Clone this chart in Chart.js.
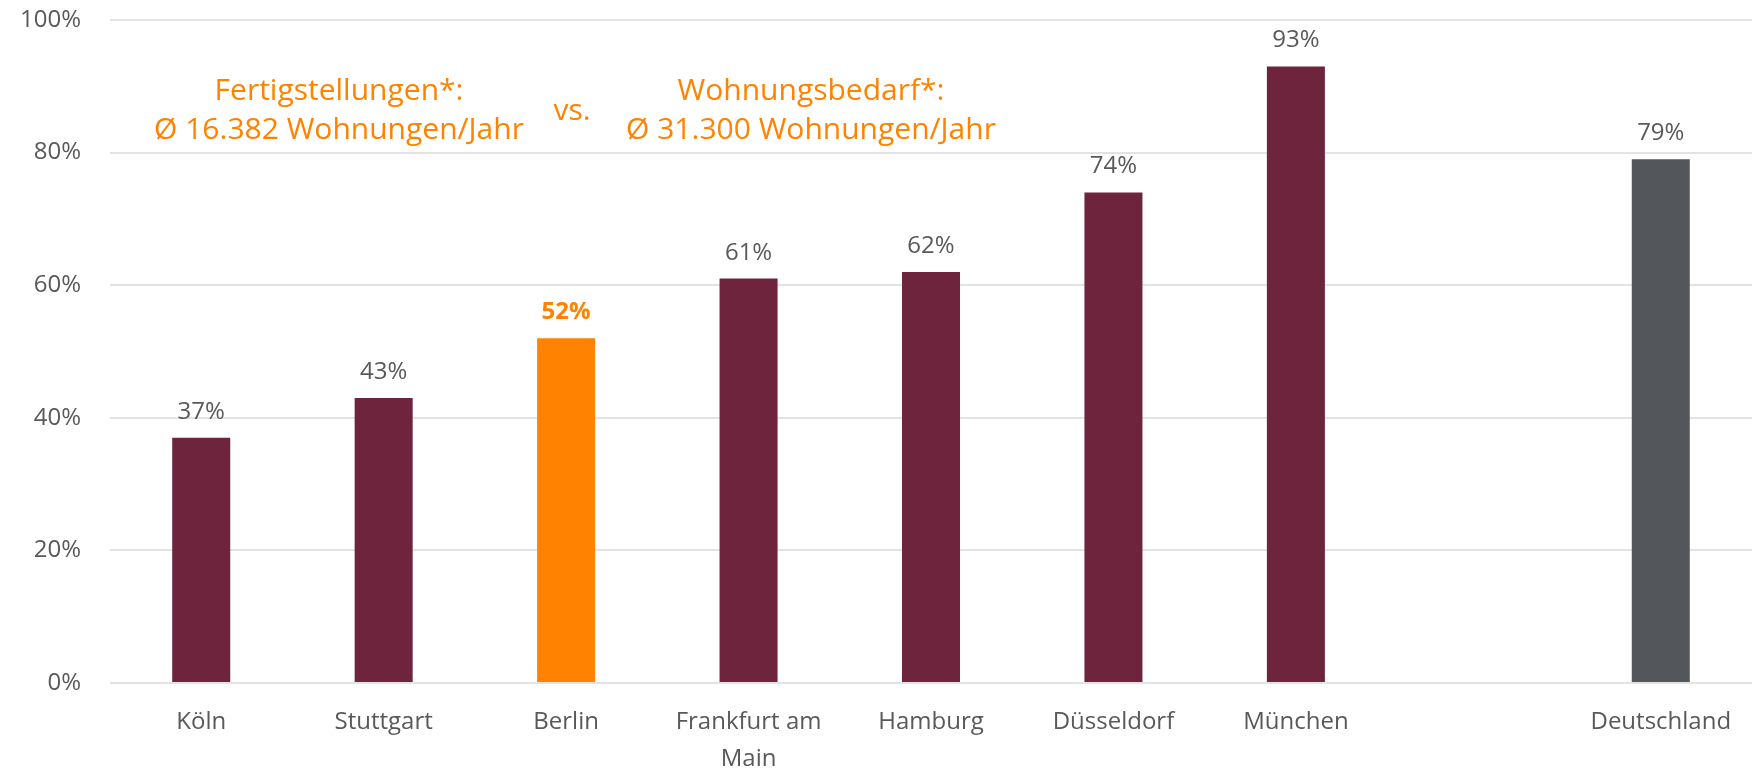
<!DOCTYPE html>
<html>
<head>
<meta charset="utf-8">
<script src="https://cdn.jsdelivr.net/npm/chart.js@4/dist/chart.umd.min.js"></script>
<style>
  html, body { margin: 0; padding: 0; background: #ffffff; }
  #wrap { width: 1761px; height: 770px; }
</style>
</head>
<body>
<div id="wrap"><canvas id="c" width="1761" height="770"></canvas></div>
<script>
// ---- data ----
const categories = ['Köln', 'Stuttgart', 'Berlin', ['Frankfurt am', 'Main'], 'Hamburg', 'Düsseldorf', 'München', '', 'Deutschland'];
const values = [37, 43, 52, 61, 62, 74, 93, null, 79];
const yTicks = [0, 20, 40, 60, 80, 100];
const annotationLeft = ['Fertigstellungen*:', 'Ø 16.382 Wohnungen/Jahr'];
const annotationMid = 'vs.';
const annotationRight = ['Wohnungsbedarf*:', 'Ø 31.300 Wohnungen/Jahr'];

// ---- styles ----
const MAROON = '#6E243C';
const ORANGE = '#FF8200';
const GREY = '#53565A';
const TEXT = '#595959';
const barColors = categories.map((c, i) => {
  if (c === 'Berlin') return ORANGE;
  if (c === 'Deutschland') return GREY;
  return MAROON;
});

Chart.defaults.font.family = '"Open Sans", "DejaVu Sans", sans-serif';
Chart.defaults.color = TEXT;

const valueLabels = {
  id: 'valueLabels',
  afterDatasetsDraw(chart) {
    const ctx = chart.ctx;
    const meta = chart.getDatasetMeta(0);
    ctx.save();
    ctx.textAlign = 'center';
    ctx.textBaseline = 'alphabetic';
    meta.data.forEach((bar, i) => {
      const v = values[i];
      if (v === null || v === undefined) return;
      const isBerlin = categories[i] === 'Berlin';
      ctx.font = (isBerlin ? 'bold ' : '') + '24px "Open Sans", sans-serif';
      ctx.fillStyle = isBerlin ? ORANGE : TEXT;
      ctx.fillText(v + '%', bar.x, bar.y - 19);
    });
    ctx.restore();
  }
};

const annotations = {
  id: 'annotations',
  afterDraw(chart) {
    const ctx = chart.ctx;
    ctx.save();
    ctx.fillStyle = ORANGE;
    ctx.textAlign = 'center';
    ctx.textBaseline = 'alphabetic';
    ctx.font = '30px "Open Sans", sans-serif';
    ctx.fillText(annotationLeft[0], 339, 100);
    ctx.fillText(annotationLeft[1], 339, 139);
    ctx.fillText(annotationRight[0], 811, 100);
    ctx.fillText(annotationRight[1], 811, 139);
    ctx.fillText(annotationMid, 572, 120);
    ctx.restore();
  }
};

new Chart(document.getElementById('c'), {
  type: 'bar',
  data: {
    labels: categories,
    datasets: [{
      data: values,
      backgroundColor: barColors,
      borderWidth: 0,
      barPercentage: 0.318,
      categoryPercentage: 1.0
    }]
  },
  options: {
    responsive: false,
    animation: false,
    devicePixelRatio: 1,
    layout: { padding: { top: 20, right: 9, left: 0, bottom: 0 } },
    plugins: {
      legend: { display: false },
      tooltip: { enabled: false }
    },
    scales: {
      x: {
        grid: { display: false, drawTicks: false },
        border: { display: false },
        ticks: {
          color: TEXT,
          font: { size: 24, lineHeight: 1.54 },
          padding: 21,
          maxRotation: 0,
          autoSkip: false
        },
        afterFit(scale) { scale.height = 87; }
      },
      y: {
        min: 0,
        max: 100,
        afterBuildTicks(scale) { scale.ticks = yTicks.map(v => ({ value: v })); },
        grid: { color: '#E3E3E3', lineWidth: 2, drawTicks: false },
        border: { display: false },
        ticks: {
          color: TEXT,
          font: { size: 24 },
          padding: 29,
          callback: (v) => v + '%'
        },
        afterFit(scale) {
          scale.width = 110;
          scale.paddingTop = 14;
          scale.paddingBottom = 14;
        }
      }
    }
  },
  plugins: [valueLabels, annotations]
});
</script>
</body>
</html>
